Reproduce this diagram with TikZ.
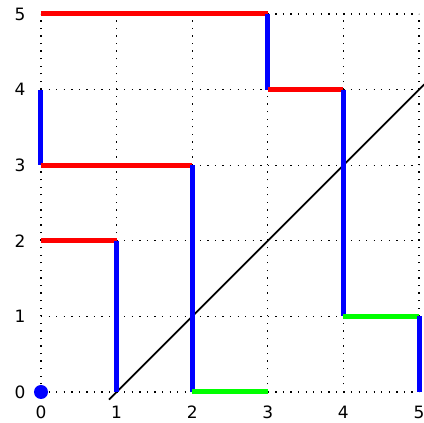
\documentclass[tikz,border=0pt]{standalone}
\usepackage{fontspec}
\setmainfont{DejaVu Sans}
\begin{document}
\begin{tikzpicture}[x=75.6pt,y=75.6pt,
  gridln/.style={black,line width=1.3pt,dash pattern=on 1.3pt off 6.26pt},
  redseg/.style={red,line width=5pt},
  blueseg/.style={blue,line width=5pt},
  greenseg/.style={green,line width=5pt},
  lbl/.style={font=\fontsize{17}{17}\selectfont,inner sep=0pt}]
\useasboundingbox (-41pt,-31pt) rectangle (383pt,392pt);
\foreach \i in {0,...,5}{
  \draw[gridln] (\i,0) -- (\i,5);
  \draw[gridln] (0,\i) -- (5,\i);
  \node[lbl] (xl\i) at ([yshift=-20pt]\i,0) {\i};
  \node[lbl] (yl\i) at ([xshift=-21pt]0,\i) {\i};
}
\coordinate (d0) at (0.9,-0.1);
\coordinate (d1) at (5.07,4.07);
\draw[black,line width=1.8pt] (d0) -- (d1);
% path 1
\draw[redseg] (0,5) -- (3,5);
\draw[blueseg] (3,5) -- (3,4);
\draw[redseg] (3,4) -- (4,4);
\draw[blueseg] (4,4) -- (4,1);
\draw[greenseg] (4,1) -- (5,1);
\draw[blueseg] (5,1) -- (5,0);
% path 2
\draw[blueseg] (0,4) -- (0,3);
\draw[redseg] (0,3) -- (2,3);
\draw[blueseg] (2,3) -- (2,0);
\draw[greenseg] (2,0) -- (3,0);
% path 3
\draw[redseg] (0,2) -- (1,2);
\draw[blueseg] (1,2) -- (1,0);
\fill[blue] (0,0) circle (7pt);
\end{tikzpicture}
\end{document}
